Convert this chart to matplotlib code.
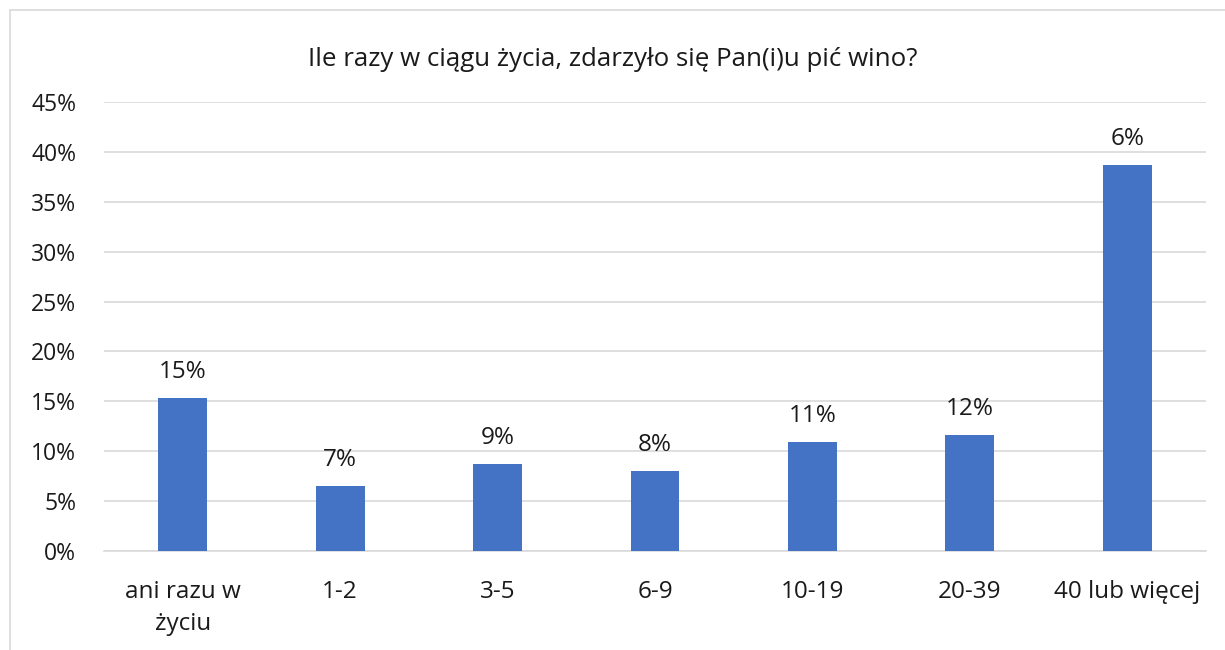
import matplotlib
matplotlib.use("Agg")
import matplotlib.pyplot as plt
from matplotlib.patches import Rectangle
from matplotlib.ticker import FuncFormatter

categories = ["ani razu w\nżyciu", "1-2", "3-5", "6-9", "10-19", "20-39", "40 lub więcej"]
values = [15.3, 6.55, 8.7, 8.0, 10.9, 11.65, 38.7]
value_labels = ["15%", "7%", "9%", "8%", "11%", "12%", "6%"]
title = "Ile razy w ciągu życia, zdarzyło się Pan(i)u pić wino?"

plt.rcParams['font.family'] = ['Open Sans', 'DejaVu Sans']

W, H = 1225, 650
fig = plt.figure(figsize=(W / 100, H / 100), dpi=100)
fig.patch.set_facecolor("white")

# chart border
fig.patches.append(Rectangle((10 / W, -0.1), 1.2, (H - 10) / H + 0.1, transform=fig.transFigure,
                             fill=False, edgecolor="#d9d9d9", linewidth=1.2))

ax = fig.add_axes([104 / W, (H - 551) / H, (1206 - 104) / W, (551 - 102) / H])
x = list(range(len(categories)))
ax.bar(x, values, width=0.31, color="#4472C4", zorder=3)
ax.set_xlim(-0.5, len(categories) - 0.5)
ax.set_ylim(0, 45)
ax.set_yticks(range(0, 46, 5))
ax.yaxis.set_major_formatter(FuncFormatter(lambda v, p: f"{int(v)}%"))
ax.grid(axis="y", color="#d9d9d9", linewidth=1.2, zorder=0)
for s in ["top", "right", "left"]:
    ax.spines[s].set_visible(False)
ax.spines["bottom"].set_color("#d9d9d9")
ax.spines["bottom"].set_linewidth(1.2)
ax.tick_params(axis="y", length=0, labelsize=16.5, colors="#1a1a1a", pad=20)
ax.tick_params(axis="x", length=0, labelsize=17.5, colors="#1a1a1a", pad=21)
ax.set_xticks(x)
ax.set_xticklabels(categories, linespacing=1.42)

for xi, v, lab in zip(x, values, value_labels):
    ax.annotate(lab, (xi, v), xytext=(0, 10), textcoords="offset points",
                ha="center", va="bottom", fontsize=17.5, color="#1a1a1a")

fig.text(0.5, (H - 60) / H, title, ha="center", va="center", fontsize=18.6, color="#1a1a1a")

fig.savefig("out.png", dpi=100, facecolor="white")
